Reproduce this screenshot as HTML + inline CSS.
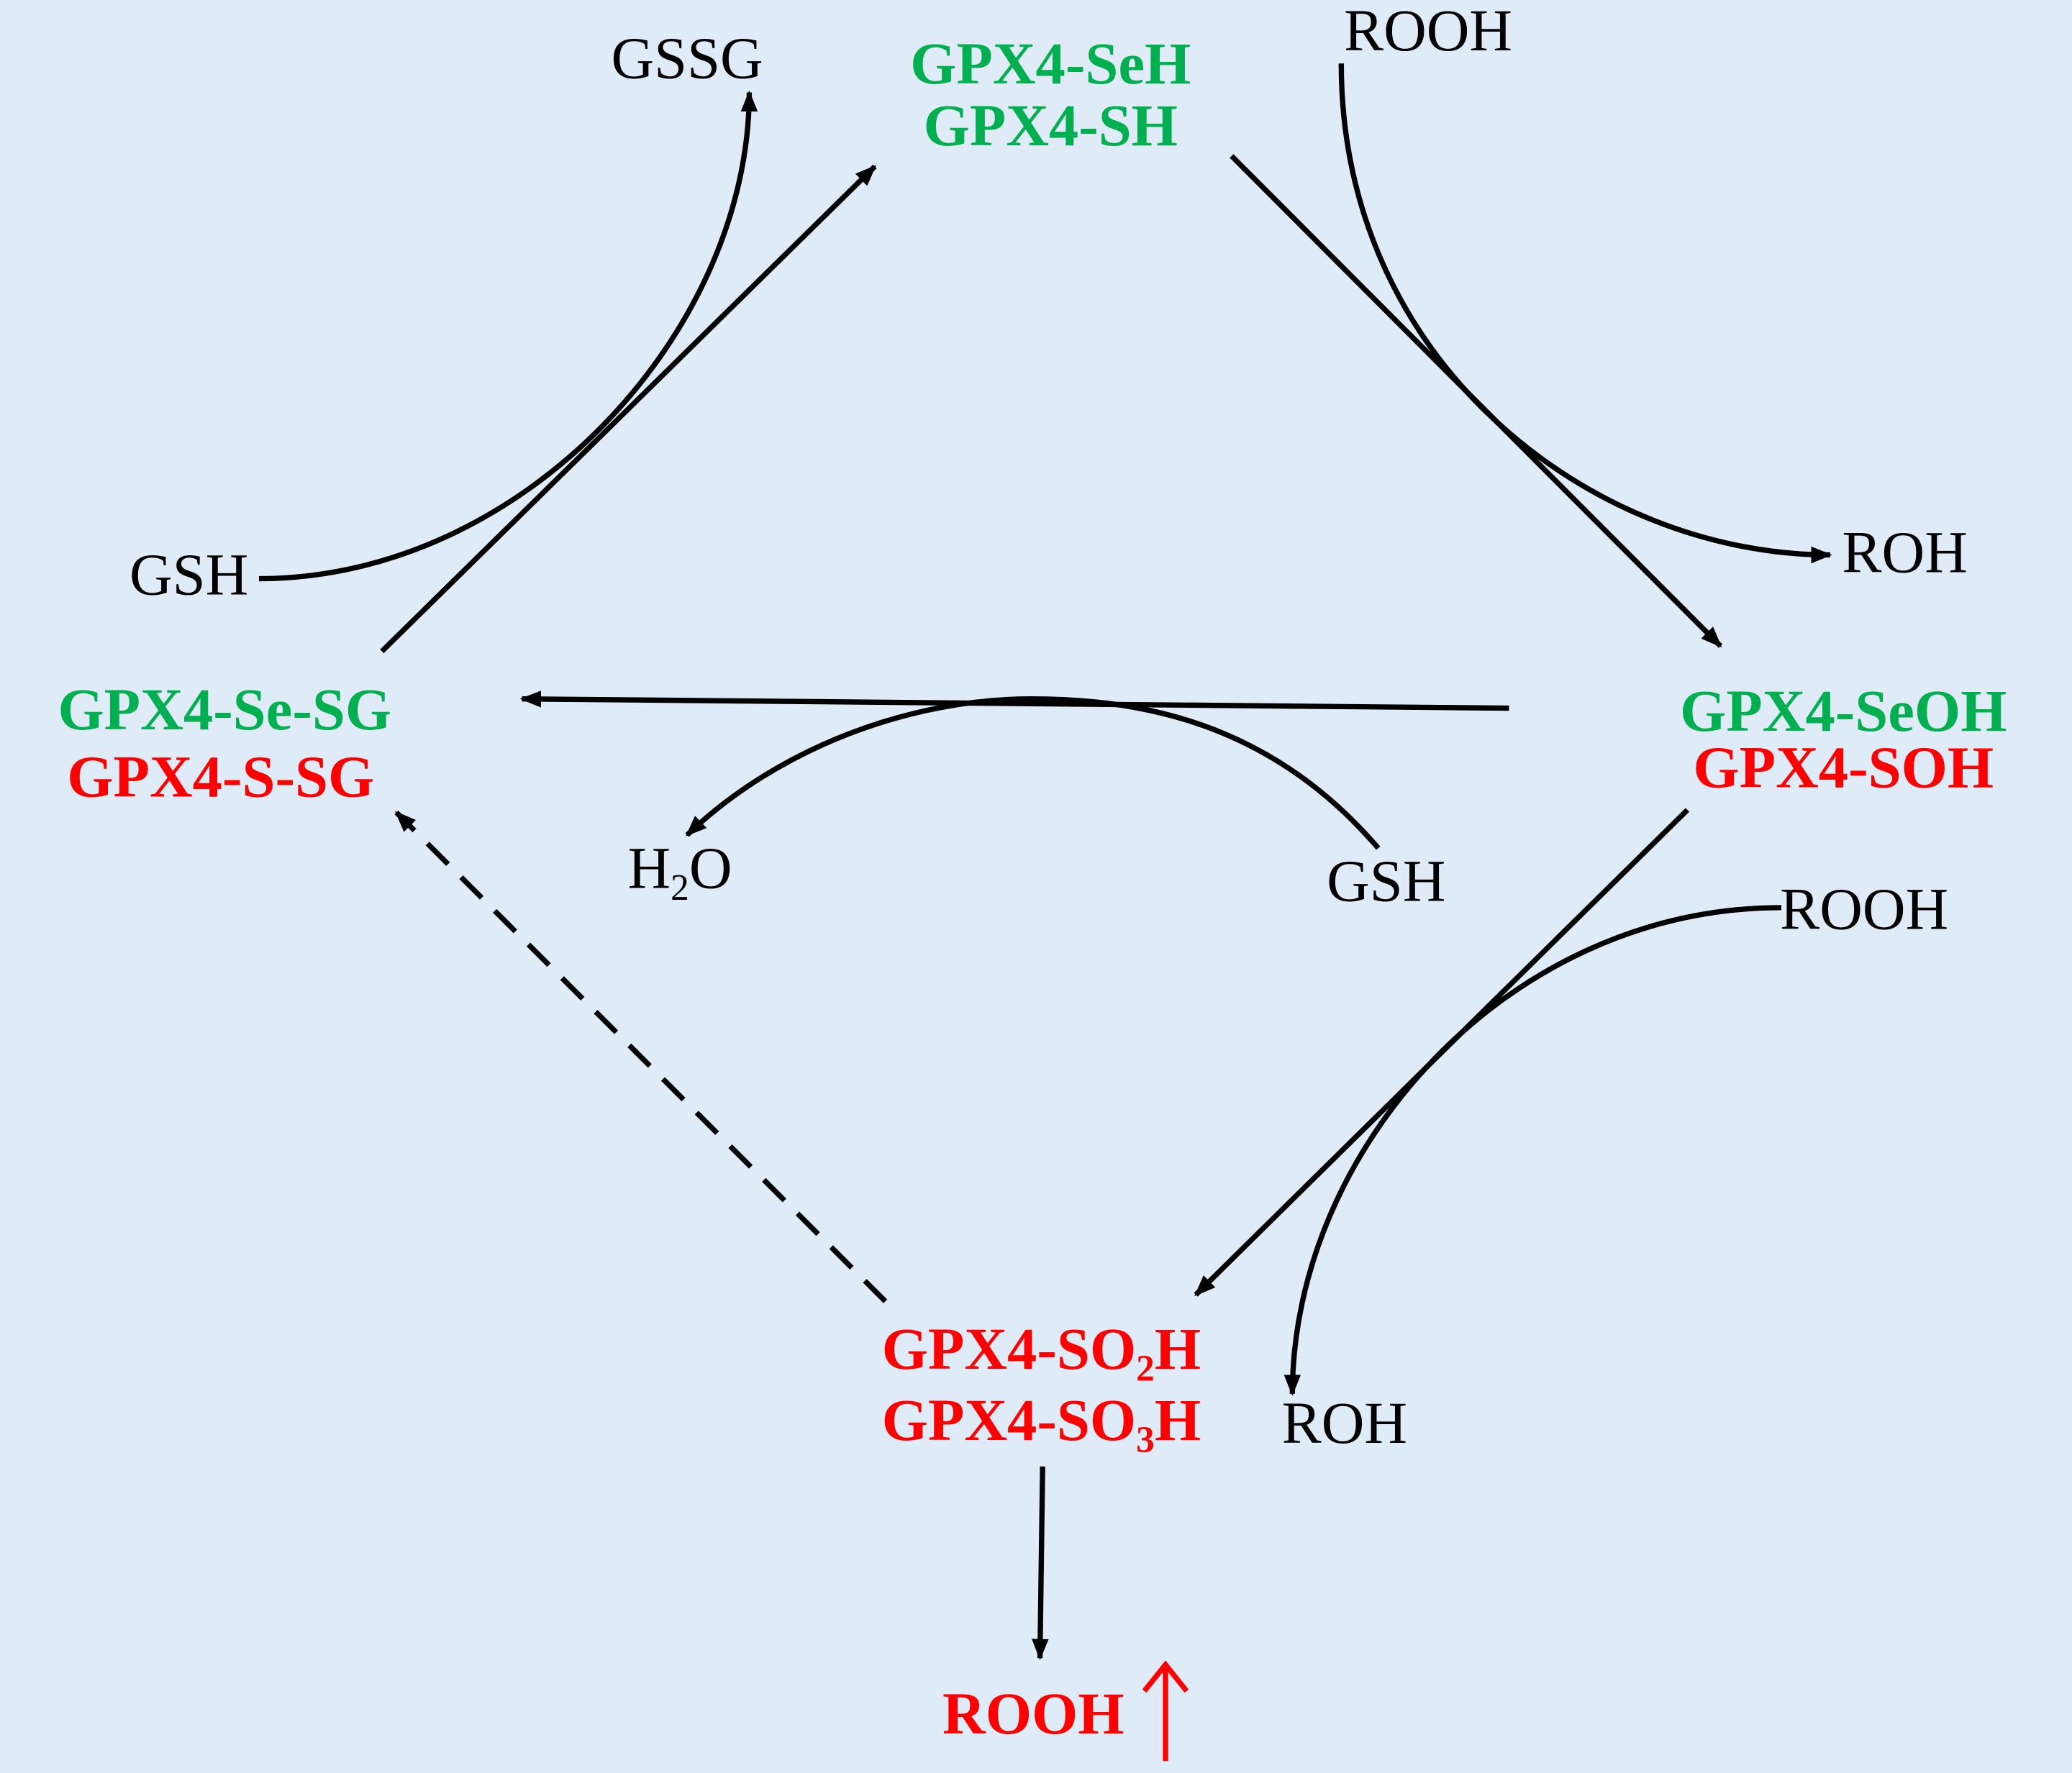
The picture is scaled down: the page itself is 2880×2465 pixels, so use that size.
<!DOCTYPE html>
<html><head><meta charset="utf-8"><style>
html,body{margin:0;padding:0;background:#DFEBF6;}
svg{display:block;}
text{font-family:"Liberation Serif",serif;font-size:45px;}
.g{fill:#00B050;font-weight:bold;}
.r{fill:#FF0000;font-weight:bold;}
.k{fill:#000;}
</style></head><body>
<svg width="2880" height="2465" viewBox="0 0 1568 1342" xmlns="http://www.w3.org/2000/svg">
<defs>
<marker id="a" viewBox="0 0 10 10" refX="9" refY="5" markerWidth="4" markerHeight="4" orient="auto-start-reverse" markerUnits="strokeWidth"><path d="M0,1 L10,5 L0,9 z" fill="#000"/></marker>
</defs>
<rect width="1568" height="1342" fill="#DFEBF6"/>
<g stroke="#000" stroke-width="4" fill="none">
<line x1="289" y1="493" x2="662" y2="126" marker-end="url(#a)"/>
<path d="M196,438 C395,438 567,252 567,70" marker-end="url(#a)"/>
<line x1="932" y1="118" x2="1302" y2="489" marker-end="url(#a)"/>
<path d="M1015,48 C1015,275 1205,420 1385,420" marker-end="url(#a)"/>
<line x1="1142" y1="536" x2="395" y2="529" marker-end="url(#a)"/>
<path d="M1043,642 C960,545 860,529 780,529 C690,529 590,565 520,632" marker-end="url(#a)"/>
<line x1="1277" y1="613" x2="905" y2="980" marker-end="url(#a)"/>
<path d="M1348,687 C1140,687 978,871 978,1055" marker-end="url(#a)"/>
<line x1="670" y1="985" x2="300" y2="615" stroke-dasharray="22,14" marker-end="url(#a)"/>
<line x1="789" y1="1110" x2="787" y2="1255" marker-end="url(#a)"/>
</g>
<text class="k" x="520" y="59" text-anchor="middle">GSSG</text>
<text class="g" x="795" y="63" text-anchor="middle">GPX4-SeH</text>
<text class="g" x="795" y="110" text-anchor="middle">GPX4-SH</text>
<text class="k" x="1017" y="38">ROOH</text>
<text class="k" x="1394" y="433">ROH</text>
<text class="k" x="98" y="450">GSH</text>
<text class="g" x="170" y="552" text-anchor="middle">GPX4-Se-SG</text>
<text class="r" x="167" y="603" text-anchor="middle">GPX4-S-SG</text>
<text class="g" x="1395" y="553" text-anchor="middle">GPX4-SeOH</text>
<text class="r" x="1395" y="596" text-anchor="middle">GPX4-SOH</text>
<text class="k" x="475" y="672">H<tspan font-size="28" dy="9">2</tspan><tspan dy="-9">O</tspan></text>
<text class="k" x="1004" y="682">GSH</text>
<text class="k" x="1347" y="703">ROOH</text>
<text class="r" x="788" y="1036" text-anchor="middle">GPX4-SO<tspan font-size="28" dy="9">2</tspan><tspan dy="-9">H</tspan></text>
<text class="r" x="788" y="1090" text-anchor="middle">GPX4-SO<tspan font-size="28" dy="9">3</tspan><tspan dy="-9">H</tspan></text>
<text class="k" x="970" y="1092">ROH</text>
<text class="r" x="782" y="1312" text-anchor="middle">ROOH</text>
<g stroke="#FF0000" stroke-width="4" fill="none">
<line x1="882" y1="1333" x2="882" y2="1262"/>
<polyline points="866,1280 882,1260 898,1280"/>
</g>
</svg>
</body></html>
